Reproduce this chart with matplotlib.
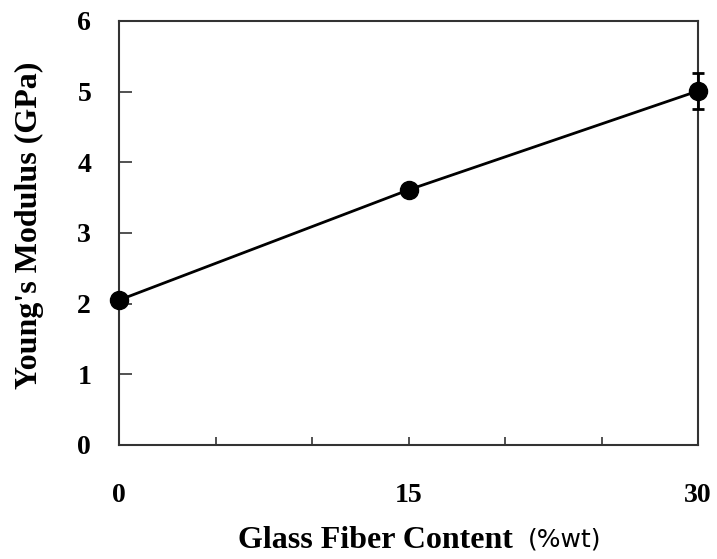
import matplotlib
matplotlib.use("Agg")
import matplotlib.pyplot as plt

fiber_content = [0, 15, 30]
modulus = [2.05, 3.61, 5.01]
modulus_err = [0.04, 0.05, 0.26]
x_ticks = [0, 5, 10, 15, 20, 25, 30]
x_tick_labels = ["0", "", "", "15", "", "", "30"]
y_ticks = [0, 1, 2, 3, 4, 5, 6]

fig = plt.figure(figsize=(7.17, 5.59), dpi=100)
ax = fig.add_axes([119/717, 1 - 445/559, (698-119)/717, (445-21)/559])

ax.errorbar(fiber_content, modulus, yerr=modulus_err, color="black", lw=2.0,
            marker="o", markersize=13, capsize=4, capthick=2.0, elinewidth=2.0,
            clip_on=False, zorder=5)

ax.set_xlim(0, 30)
ax.set_ylim(0, 6)
ax.set_xticks(x_ticks)
ax.set_xticklabels(x_tick_labels)
ax.set_yticks(y_ticks)

serif = ["Liberation Serif", "DejaVu Serif"]
for lab in ax.get_xticklabels() + ax.get_yticklabels():
    lab.set_fontfamily(serif)
    lab.set_fontweight("bold")
    lab.set_fontsize(20)

ax.tick_params(axis="x", direction="in", length=6, width=1.2, pad=27, colors="#333333", labelcolor="black")
ax.tick_params(axis="y", direction="in", length=9, width=1.2, pad=20, colors="#333333", labelcolor="black")
for s in ax.spines.values():
    s.set_linewidth(1.5)
    s.set_color("#333333")

fig.text(29/717, 1 - 225/559, "Young's Modulus (GPa)", fontfamily=serif, fontweight="bold",
         fontsize=23, rotation=90, ha="center", va="center")

fig.text(238/717, 1 - 541/559, "Glass Fiber Content", fontfamily=serif, fontweight="bold",
         fontsize=23, ha="left", va="center")
fig.text(601/717, 1 - 540/559, "(%wt)", fontfamily=["DejaVu Sans"], fontsize=18,
         ha="right", va="center")

fig.savefig("out.png", dpi=100)
